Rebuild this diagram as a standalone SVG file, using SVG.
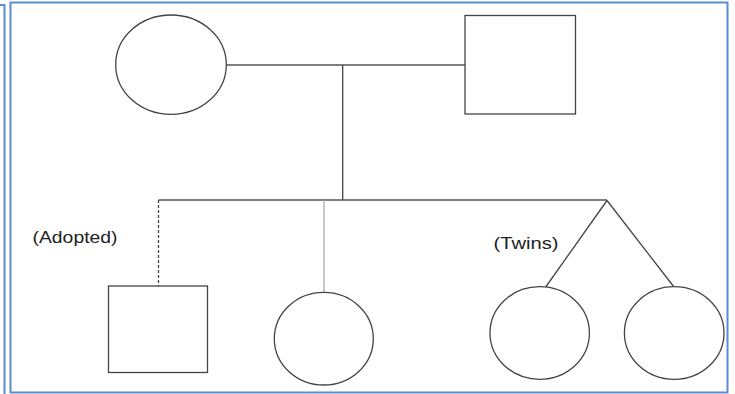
<svg xmlns="http://www.w3.org/2000/svg" width="735" height="394" viewBox="0 0 735 394">
<style>
.frame{fill:none;stroke:#5b8bd3;stroke-width:2}
.sym{fill:#fff;stroke:#444;stroke-width:1.3}
.ln{fill:none;stroke:#444;stroke-width:1.3}
.lbl{font-family:"Liberation Sans",Arial,sans-serif;font-size:16.5px;fill:#222}
</style>
<rect width="735" height="394" fill="#fff"/>
<path class="frame" d="M0,5 H4.5 V394"/>
<rect class="frame" x="10.5" y="2.5" width="717" height="390"/>
<g id="connectors">
<line class="ln" x1="226" y1="65" x2="465" y2="65" style="stroke:#555;stroke-width:1.6"/>
<line class="ln" x1="342.7" y1="65" x2="342.7" y2="200"/>
<line class="ln" x1="158.5" y1="200" x2="607" y2="200" style="stroke:#555;stroke-width:1.5"/>
<line class="ln" x1="158.5" y1="200" x2="158.5" y2="286" stroke-dasharray="3,2"/>
<line class="ln" x1="324" y1="200" x2="324" y2="292.5" style="stroke:#aaa"/>
<line class="ln" x1="607" y1="200.5" x2="545.7" y2="287"/>
<line class="ln" x1="607" y1="200.5" x2="674" y2="287"/>
</g>
<g id="mother"><ellipse class="sym" cx="171" cy="64.7" rx="55.3" ry="49.7"/></g>
<g id="father"><rect class="sym" x="465" y="15.5" width="110.5" height="98.5"/></g>
<g id="adopted-son"><rect class="sym" x="108.5" y="286" width="99" height="86.5"/></g>
<g id="daughter"><ellipse class="sym" cx="323.8" cy="338.7" rx="49.5" ry="46.3"/></g>
<g id="twin1"><ellipse class="sym" cx="539.7" cy="333" rx="49.7" ry="46.3"/></g>
<g id="twin2"><ellipse class="sym" cx="674.2" cy="333" rx="49.8" ry="46.3"/></g>
<g id="labels">
<text class="lbl" x="32.5" y="242.5" textLength="85" lengthAdjust="spacingAndGlyphs">(Adopted)</text>
<text class="lbl" x="493.5" y="248.5" textLength="65" lengthAdjust="spacingAndGlyphs">(Twins)</text>
</g>
</svg>
